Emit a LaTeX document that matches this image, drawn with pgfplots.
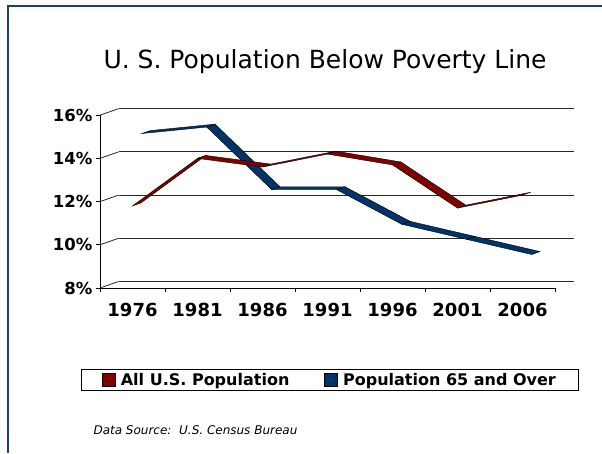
\documentclass[border=0pt]{standalone}
\usepackage{fontspec}
\setmainfont{DejaVu Sans}
\usepackage{pgfplots}
\pgfplotsset{compat=1.18}
\definecolor{ribred}{RGB}{128,0,0}
\definecolor{ribblue}{RGB}{0,51,102}
\definecolor{framecol}{RGB}{31,64,110}
\pgfplotsset{
  colormap={redmap}{color=(ribred) color=(ribred)},
  colormap={bluemap}{color=(ribblue) color=(ribblue)},
}
\begin{document}
\begin{tikzpicture}
\useasboundingbox (0pt,0pt) rectangle (602pt,453pt);
\fill[white] (0pt,0pt) rectangle (602pt,453pt);
\draw[framecol, line width=1.6pt] (8pt,0pt) -- (8pt,447pt) -- (602pt,447pt);
% 3D part: back wall grid and ribbons
\begin{axis}[
  anchor=origin, at={(100pt,165pt)},
  x={(65pt,0pt)}, y={(18.5pt,6.5pt)}, z={(0pt,21.6pt)},
  xmin=0.5, xmax=7.5, ymin=0, ymax=1, zmin=8, zmax=16,
  xtick=\empty, ytick=\empty, ztick={8,10,12,14,16}, zticklabels={},
  zmajorgrids, major tick length=0pt,
  axis line style={draw=none},
  major grid style={black!85, line width=0.8pt},
  clip=false,
]
% Population 65 and Over (rows: front edge, back edge)
\addplot3[surf, shader=faceted, colormap name=bluemap, faceted color=black, line width=0.4pt, mesh/rows=2, mesh/cols=7] table {
x y z
1 0.5 15.0
2 0.5 15.3
3 0.5 12.4
4 0.5 12.4
5 0.5 10.8
6 0.5 10.1
7 0.5 9.4
1 0.95 15.0
2 0.95 15.3
3 0.95 12.4
4 0.95 12.4
5 0.95 10.8
6 0.95 10.1
7 0.95 9.4
};
% All U.S. Population
\addplot3[surf, shader=faceted, colormap name=redmap, faceted color=black, line width=0.4pt, mesh/rows=2, mesh/cols=7] table {
x y z
1 0 11.8
2 0 14.0
3 0 13.6
4 0 14.2
5 0 13.7
6 0 11.7
7 0 12.3
1 0.45 11.8
2 0.45 14.0
3 0.45 13.6
4 0.45 14.2
5 0.45 13.7
6 0.45 11.7
7 0.45 12.3
};
\end{axis}
% 2D front part: axes, ticks, labels, legend
\begin{axis}[
  anchor=origin, at={(100pt,165pt)},
  x=65pt, y=21.6pt,
  xmin=0.5, xmax=7.5, ymin=8, ymax=16,
  axis x line*=bottom, axis y line*=left,
  axis line style={line width=0.9pt, black},
  xtick={0.5,1.5,...,7.5}, xticklabels={},
  extra x ticks={1,2,3,4,5,6,7},
  extra x tick labels={1976,1981,1986,1991,1996,2001,2006},
  extra x tick style={major tick length=0pt,
    tick label style={yshift=-12pt, font=\bfseries\fontsize{18}{22}\selectfont}},
  ytick={8,10,12,14,16},
  yticklabels={8\%,10\%,12\%,14\%,16\%},
  tick align=outside, major tick length=4pt,
  tick style={black, line width=0.8pt},
  yticklabel style={font=\bfseries\fontsize{16.5}{20}\selectfont},
  clip=false,
  title={U. S. Population Below Poverty Line},
  title style={at={(0.4945,1.233)}, anchor=base, font=\fontsize{25}{28}\selectfont},
  legend columns=2,
  legend style={at={(0.5055,-0.532)}, anchor=center, draw=black, line width=0.9pt,
    font=\bfseries\fontsize{16}{20}\selectfont, inner xsep=21pt, inner ysep=2pt,
    /tikz/every even column/.append style={column sep=33pt}},
  legend image code/.code={\draw[#1, line width=0.5pt] (0pt,-6.5pt) rectangle (13pt,6.5pt); \path (16pt,0pt);},
]
\addlegendimage{fill=ribred, draw=black}
\addlegendentry{All U.S. Population}
\addlegendimage{fill=ribblue, draw=black}
\addlegendentry{Population 65 and Over}
\end{axis}
\node[anchor=base west, font=\itshape\fontsize{12}{14}\selectfont] at (90pt,19pt) {Data Source:\ \ U.S. Census Bureau};
\end{tikzpicture}
\end{document}
